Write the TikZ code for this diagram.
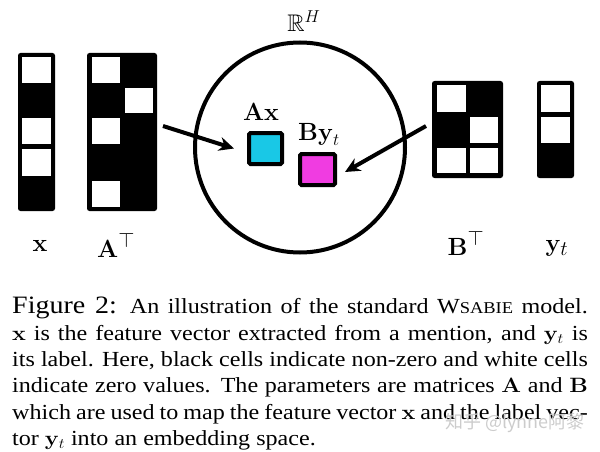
\documentclass[tikz,border=0pt]{standalone}
\usepackage{amsmath,amssymb,graphicx}
\usepackage[no-math]{fontspec}
\setmainfont{Liberation Serif}
\newfontfamily\cjkfont{Noto Sans CJK SC}
\usetikzlibrary{arrows.meta}
\definecolor{cyanc}{RGB}{25,200,230}
\definecolor{magc}{RGB}{240,60,225}
\newcommand{\capline}[1]{\scalebox{1.12}[1]{\makebox[514pt][s]{#1}}}
\begin{document}
\begin{tikzpicture}[x=1pt,y=-1pt,
  matbox/.style={fill=black, rounded corners=2.5pt, inner sep=0pt, outer sep=0pt, draw=none},
  vecsq/.style={draw=black, line width=4pt, rounded corners=1.5pt, inner sep=0pt},
  arr/.style={line width=4pt, -{Stealth[length=15pt,width=14pt]}},
  captionline/.style={anchor=base west, inner sep=0pt, font=\fontsize{21.5}{24}\selectfont},
  lab/.style={anchor=base, inner sep=0pt}]
\useasboundingbox (0,0) rectangle (600,452);
% matrices
\node[matbox, minimum width=37pt, minimum height=158pt] (xv) at (36.5,132) {};
\node[matbox, minimum width=70pt, minimum height=158pt] (At) at (122,132) {};
\node[matbox, minimum width=71pt, minimum height=97pt] (Bt) at (467.5,129.5) {};
\node[matbox, minimum width=37pt, minimum height=97pt] (yv) at (555.5,129.5) {};
% white cells
\fill[white] (22,57) rectangle (51,83);
\fill[white] (22,118) rectangle (51,144);
\fill[white] (22,149) rectangle (51,176);
\fill[white] (92,57) rectangle (120,83);
\fill[white] (92,118) rectangle (120,144);
\fill[white] (92,181) rectangle (120,207);
\fill[white] (125,88) rectangle (153,113);
\fill[white] (437,85) rectangle (466,112);
\fill[white] (470,117) rectangle (498,143);
\fill[white] (437,148) rectangle (466,173);
\fill[white] (470,148) rectangle (498,173);
\fill[white] (541,85) rectangle (570,112);
\fill[white] (541,117) rectangle (570,143);
% labels under matrices
\node[lab] (xl) at (40,251) {\fontsize{28}{30}\selectfont$\mathbf{x}$};
\node[lab] (Al) at (116,257) {\fontsize{31}{34}\selectfont$\mathbf{A}^{\top}$};
\node[lab] (Bl) at (466,255) {\fontsize{31}{34}\selectfont$\mathbf{B}^{\top}$};
\node[lab] (yl) at (557,251) {\fontsize{28}{30}\selectfont$\mathbf{y}_t$};
% embedding space
\node[draw, circle, line width=4pt, minimum size=210pt, inner sep=0pt] (emb) at (300,147.5) {};
\node[lab] (rh) at (304,32) {\fontsize{24}{26}\selectfont$\mathbb{R}^H$};
\node[vecsq, fill=cyanc, minimum width=33pt, minimum height=31pt] (ax) at (265.5,148.5) {};
\node[vecsq, fill=magc, minimum width=35pt, minimum height=31pt] (by) at (317.5,169.5) {};
\node[lab] (axl) at (261,120) {\fontsize{26}{28}\selectfont$\mathbf{Ax}$};
\node[lab] (byl) at (319,140) {\fontsize{26}{28}\selectfont$\mathbf{By}_t$};
% arrows
\coordinate (la) at (163,126);
\coordinate (ra) at (426,126);
\draw[arr] (la) -- ([xshift=-13pt]ax.west);
\draw[arr] (ra) -- ([xshift=8pt,yshift=-2.5pt]by.east);
% caption
\node[captionline] (c1) at (12,313) {\capline{{\fontsize{25}{28}\selectfont Figure 2:} An illustration of the standard W{\fontsize{16.5}{18}\selectfont SABIE} model.}};
\node[captionline] (c2) at (12,340) {\capline{$\mathbf{x}$ is the feature vector extracted from a mention, and $\mathbf{y}_t$ is}};
\node[captionline] (c3) at (12,366) {\capline{its label. Here, black cells indicate non-zero and white cells}};
\node[captionline] (c4) at (12,392) {\capline{indicate zero values. The parameters are matrices $\mathbf{A}$ and $\mathbf{B}$}};
\node[captionline] (c5) at (12,419) {\capline{which are used to map the feature vector $\mathbf{x}$ and the label vec-}};
\node[captionline] (c6) at (12,445) {\scalebox{1.12}[1]{tor $\mathbf{y}_t$ into an embedding space.}};
% watermark
\node[inner sep=0pt, text=gray!40, font=\cjkfont\fontsize{18}{20}\selectfont] (wm) at (515,423) {知乎 @lynne阿黎};
\end{tikzpicture}
\end{document}
